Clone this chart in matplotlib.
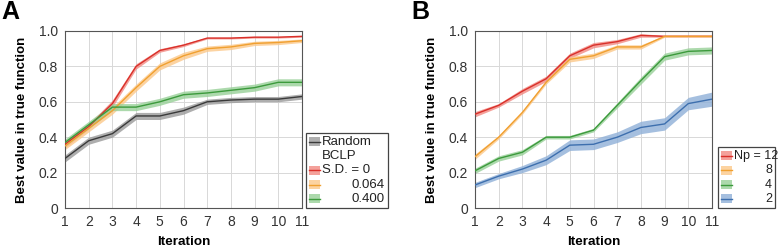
import matplotlib.pyplot as plt
from matplotlib.patches import Rectangle
from matplotlib.lines import Line2D

plt.rcParams['font.family'] = ['Liberation Sans', 'DejaVu Sans']

iters = list(range(1, 12))

# panel A
random_mean = [0.28, 0.38, 0.42, 0.52, 0.52, 0.55, 0.60, 0.61, 0.615, 0.615, 0.63]
random_err = [0.02, 0.02, 0.02, 0.02, 0.02, 0.02, 0.015, 0.015, 0.015, 0.015, 0.015]
sd0_mean = [0.36, 0.46, 0.59, 0.80, 0.89, 0.92, 0.96, 0.96, 0.965, 0.965, 0.97]
sd0_err = [0.02, 0.015, 0.02, 0.015, 0.01, 0.008, 0.005, 0.005, 0.005, 0.005, 0.005]
sd064_mean = [0.35, 0.45, 0.55, 0.68, 0.80, 0.86, 0.90, 0.91, 0.93, 0.935, 0.945]
sd064_err = [0.02, 0.02, 0.02, 0.02, 0.02, 0.02, 0.015, 0.015, 0.012, 0.012, 0.01]
sd400_mean = [0.37, 0.47, 0.57, 0.57, 0.60, 0.64, 0.65, 0.665, 0.68, 0.71, 0.71]
sd400_err = [0.02, 0.02, 0.02, 0.02, 0.02, 0.02, 0.02, 0.02, 0.02, 0.02, 0.02]

# panel B
np12_mean = [0.53, 0.58, 0.66, 0.73, 0.86, 0.92, 0.94, 0.975, 0.97, 0.97, 0.97]
np12_err = [0.015, 0.01, 0.015, 0.015, 0.015, 0.015, 0.012, 0.01, 0.005, 0.005, 0.005]
np8_mean = [0.29, 0.40, 0.54, 0.71, 0.84, 0.86, 0.91, 0.91, 0.97, 0.97, 0.97]
np8_err = [0.015, 0.01, 0.01, 0.01, 0.015, 0.015, 0.012, 0.012, 0.005, 0.005, 0.005]
np4_mean = [0.21, 0.28, 0.315, 0.40, 0.40, 0.44, 0.58, 0.72, 0.855, 0.885, 0.89]
np4_err = [0.015, 0.015, 0.015, 0.01, 0.01, 0.01, 0.015, 0.02, 0.02, 0.02, 0.02]
np2_mean = [0.13, 0.18, 0.22, 0.27, 0.355, 0.36, 0.40, 0.455, 0.475, 0.59, 0.615]
np2_err = [0.015, 0.015, 0.02, 0.025, 0.03, 0.03, 0.03, 0.035, 0.035, 0.035, 0.04]

# colours (line, band)
c_gray = ('#3a3a3a', '#9a9a9a')
c_red = ('#d9302a', '#f28a82')
c_orange = ('#f0a030', '#fcc88a')
c_green = ('#3c9a3c', '#98d098')
c_blue = ('#3d6fae', '#8fb0d8')

panel_a = [('Random', random_mean, random_err, c_gray),
           ('S.D. = 0', sd0_mean, sd0_err, c_red),
           ('0.064', sd064_mean, sd064_err, c_orange),
           ('0.400', sd400_mean, sd400_err, c_green)]
panel_b = [('Np = 12', np12_mean, np12_err, c_red),
           ('8', np8_mean, np8_err, c_orange),
           ('4', np4_mean, np4_err, c_green),
           ('2', np2_mean, np2_err, c_blue)]

fig = plt.figure(figsize=(7.8, 2.49), dpi=100)


def draw_panel(rect, series, letter):
    ax = fig.add_axes(rect)
    for name, m, e, (lc, bc) in series:
        lo = [a - b for a, b in zip(m, e)]
        hi = [a + b for a, b in zip(m, e)]
        ax.fill_between(iters, lo, hi, color=bc, alpha=0.8, lw=0, zorder=2)
        ax.plot(iters, m, color=lc, lw=1.0, zorder=3)
    ax.set_xlim(1, 11)
    ax.set_ylim(0, 1.0)
    ax.set_xticks(iters)
    ax.set_yticks([0, 0.2, 0.4, 0.6, 0.8, 1.0])
    ax.set_yticklabels(['0', '0.2', '0.4', '0.6', '0.8', '1.0'])
    ax.grid(True, color='#d8d8d8', lw=0.7, zorder=0)
    ax.set_axisbelow(True)
    ax.tick_params(length=0, labelsize=10, colors='#333333')
    ax.tick_params(axis='x', pad=5)
    ax.tick_params(axis='y', pad=5)
    for s in ax.spines.values():
        s.set_color('#555555')
        s.set_linewidth(0.8)
    ax.set_xlabel('Iteration', fontsize=9.7, fontweight='bold', labelpad=5)
    ax.set_ylabel('Best value in true function', fontsize=9.5, fontweight='bold', labelpad=8)
    fig.text(rect[0] - 0.082, 1.0, letter, fontsize=18, fontweight='bold', va='top')
    return ax


def draw_legend(x0, y0, w, entries, fs):
    # entries: list of (label, colours or None, align)
    n = len(entries)
    row = 14.3 / 249
    h = n * row + 4 / 249
    box = Rectangle((x0, y0), w, h, transform=fig.transFigure, fill=False,
                    ec='#444444', lw=0.9)
    fig.patches.append(box)
    hx = x0 + 3 / 780
    hw = 11 / 780
    for i, (label, cols, align) in enumerate(entries):
        yc = y0 + h - 2 / 249 - (i + 0.5) * row
        if cols is not None:
            lc, bc = cols
            fig.patches.append(Rectangle((hx, yc - 4.5 / 249), hw, 9 / 249,
                                         transform=fig.transFigure, color=bc, alpha=0.8, lw=0))
            fig.lines.append(Line2D([hx, hx + hw], [yc, yc], transform=fig.transFigure,
                                    color=lc, lw=1.0))
        if align == 'left':
            fig.text(hx + hw + 2 / 780, yc, label, fontsize=fs, va='center', ha='left', color='#222222')
        else:
            fig.text(x0 + w - 3 / 780, yc, label, fontsize=fs, va='center', ha='right', color='#222222')


draw_panel([65 / 780, 41 / 249, 237 / 780, 177 / 249], panel_a, 'A')
draw_panel([475 / 780, 41 / 249, 237 / 780, 177 / 249], panel_b, 'B')

draw_legend(306 / 780, 41 / 249, 82 / 780,
            [('Random', c_gray, 'left'), ('BCLP', None, 'left'),
             ('S.D. = 0', c_red, 'left'), ('0.064', c_orange, 'right'),
             ('0.400', c_green, 'right')], 9.5)
draw_legend(718 / 780, 41 / 249, 57 / 780,
            [('Np = 12', c_red, 'left'), ('8', c_orange, 'right'),
             ('4', c_green, 'right'), ('2', c_blue, 'right')], 9)

fig.savefig('out.png', dpi=100)
